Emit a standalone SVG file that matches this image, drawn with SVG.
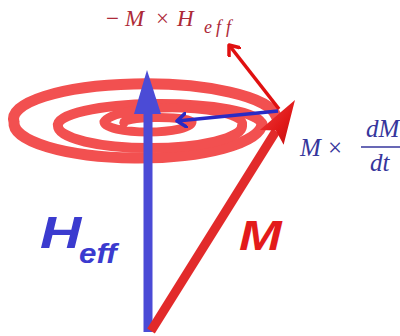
<svg xmlns="http://www.w3.org/2000/svg" width="400" height="336" viewBox="0 0 400 336">
<defs>
<style>
.math{font-family:"Liberation Serif","DejaVu Serif",serif;}
.it{font-style:italic;}
.lab{font-family:"Liberation Sans",Arial,sans-serif;font-weight:bold;font-style:italic;}
.ring{fill:none;stroke:#f25050;stroke-linecap:round;}
</style>
<linearGradient id="mhead" x1="0" y1="0" x2="1" y2="1">
<stop offset="0" stop-color="#f04040"/>
<stop offset="0.6" stop-color="#e01818"/>
<stop offset="1" stop-color="#c01010"/>
</linearGradient>
<marker id="ahRed" viewBox="-10 -8 12 16" refX="0" refY="0" markerWidth="12" markerHeight="16" markerUnits="userSpaceOnUse" orient="auto">
<path d="M -9 -7 L 0 0 L -9 7" fill="none" stroke="#e01010" stroke-width="3.5" stroke-linecap="round" stroke-linejoin="round"/>
</marker>
<marker id="ahBlue" viewBox="-10 -8 12 16" refX="0" refY="0" markerWidth="12" markerHeight="16" markerUnits="userSpaceOnUse" orient="auto">
<path d="M -9 -7 L 0 0 L -9 7" fill="none" stroke="#2a2ac4" stroke-width="3.5" stroke-linecap="round" stroke-linejoin="round"/>
</marker>
</defs>
<rect width="400" height="336" fill="#ffffff"/>

<g id="spiral">
<path class="ring" stroke-width="11" d="M 276 116 A 131 35 0 0 0 14 122 A 124 35 0 0 0 262 124"/>
<path class="ring" stroke-width="10" d="M 262 124 A 102 21 0 0 0 58 126 A 92 22 0 0 0 242 126"/>
<path class="ring" stroke-width="9" d="M 242 126 A 69 16 0 0 0 104 122 A 44 10 0 0 0 192 122 A 34 5 0 0 0 124 123"/>
</g>

<g id="Heff">
<line x1="148" y1="110" x2="148" y2="332" stroke="#4b4bd6" stroke-width="9"/>
<polygon points="147,70 134,114 161,114" fill="#4b4bd6"/>
</g>

<g id="M">
<line x1="151" y1="331" x2="276" y2="131" stroke="#e22a2a" stroke-width="9"/>
<polygon points="295,100 259.8,129.9 275.9,130.5 283.6,144.7" fill="url(#mhead)"/>
</g>

<g id="connectors">
<line x1="279" y1="109" x2="229" y2="45" stroke="#e01010" stroke-width="3.5" marker-end="url(#ahRed)"/>
<line x1="278" y1="111" x2="177" y2="121" stroke="#2a2ac4" stroke-width="3.5" marker-end="url(#ahBlue)"/>
</g>

<g id="label-torque">
<text class="math" y="26" font-size="23" fill="#ad2a38"><tspan x="106">−</tspan><tspan x="125" class="it">M</tspan><tspan x="156">×</tspan><tspan x="177" class="it">H</tspan><tspan x="204" y="33" class="it" font-size="18">e</tspan><tspan x="216" y="33" class="it" font-size="18">f</tspan><tspan x="226" y="33" class="it" font-size="18">f</tspan></text>
</g>

<g id="label-precession">
<text class="math" font-size="25" fill="#36369c"><tspan x="300" y="156" class="it">M</tspan><tspan x="328" y="156">×</tspan><tspan x="366" y="137" class="it">dM</tspan><tspan x="370" y="171" class="it">dt</tspan></text>
<line x1="361" y1="147" x2="400" y2="147" stroke="#36369c" stroke-width="1.5"/>
</g>

<g id="label-Heff">
<text class="lab" fill="#3b3bcf" font-size="44" transform="translate(40,248) scale(1.3,1)">H</text>
<text class="lab" fill="#3b3bcf" font-size="28" transform="translate(79,263) scale(1.12,1)">eff</text>
</g>

<g id="label-M">
<text class="lab" font-size="42" fill="#e31b1b" transform="translate(239,250) scale(1.22,1)">M</text>
</g>
</svg>
